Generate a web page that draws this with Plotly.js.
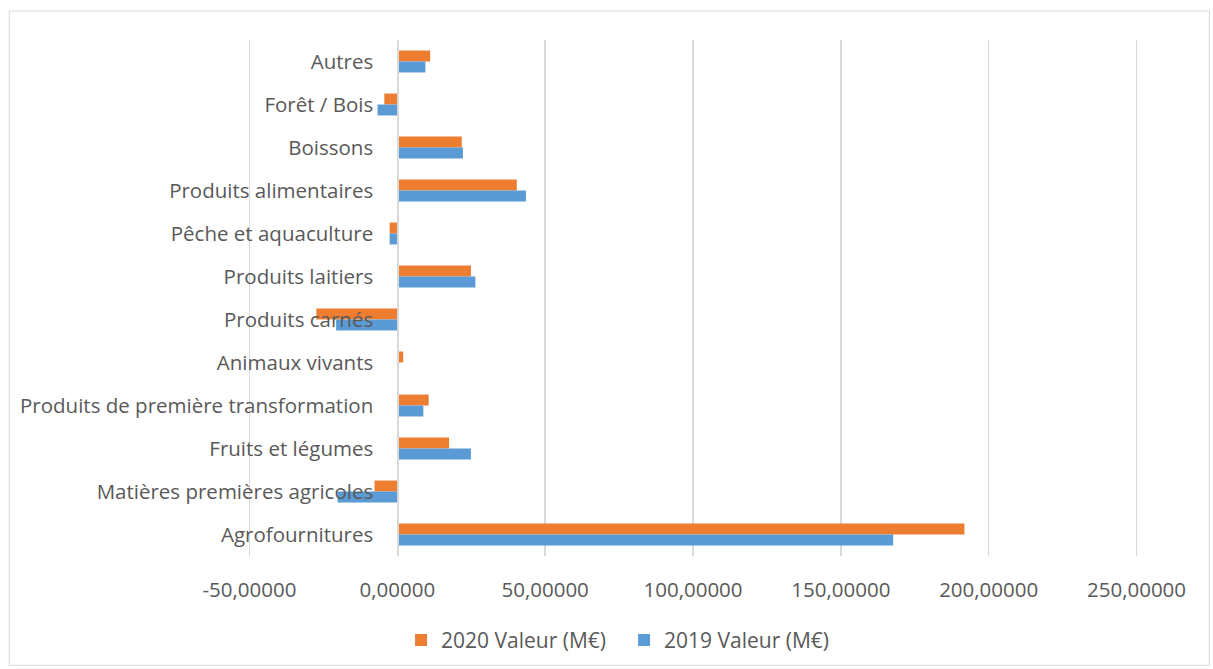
<!DOCTYPE html>
<html>
<head>
<meta charset="utf-8">
<script src="https://cdn.plot.ly/plotly-3.0.1.min.js"></script>
<style>
html,body{margin:0;padding:0;background:#fff;}
#chart{width:1213px;height:669px;}
</style>
</head>
<body>
<div id="chart"></div>
<script>
const categories = [
  "Autres",
  "Forêt / Bois",
  "Boissons",
  "Produits alimentaires",
  "Pêche et aquaculture",
  "Produits laitiers",
  "Produits carnés",
  "Animaux vivants",
  "Produits de première transformation",
  "Fruits et légumes",
  "Matières premières agricoles",
  "Agrofournitures"
];
const values2020 = [11.1, -4.4, 21.8, 40.4, -2.6, 24.9, -27.4, 2.0, 10.6, 17.5, -7.7, 191.8];
const values2019 = [9.5, -6.7, 22.2, 43.5, -2.6, 26.4, -20.7, -0.1, 8.8, 24.9, -20.2, 167.7];
const seriesNames = ["2020 Valeur (M€)", "2019 Valeur (M€)"];
const tickVals = [-50, 0, 50, 100, 150, 200, 250];
const tickText = ["-50,00000", "0,00000", "50,00000", "100,00000", "150,00000", "200,00000", "250,00000"];

const font = {family: "Open Sans, Noto Sans, sans-serif", size: 20.5, color: "#595959"};
const legendFont = {family: "Open Sans, Noto Sans, sans-serif", size: 21, color: "#595959"};

const traces = [
  {type: "bar", orientation: "h", name: seriesNames[0], y: categories, x: values2020,
   marker: {color: "#ED7D31"}, hoverinfo: "x+y"},
  {type: "bar", orientation: "h", name: seriesNames[1], y: categories, x: values2019,
   marker: {color: "#5B9BD5"}, hoverinfo: "x+y"}
];

const W = 1213, H = 669;
const ml = 247.5, mr = 74.5, mt = 39.5, mb = 112.5;
const pw = W - ml - mr, ph = H - mt - mb;
const px = v => (v - ml) / pw;
const py = v => (H - mb - v) / ph;

const layout = {
  width: W, height: H,
  margin: {l: ml, r: mr, t: mt, b: mb, autoexpand: false},
  paper_bgcolor: "#fff", plot_bgcolor: "#fff",
  barmode: "group", bargap: 0.49, bargroupgap: 0,
  font: font,
  showlegend: true,
  legend: {orientation: "h", x: px(624), xanchor: "center", y: py(641), yanchor: "middle",
           font: legendFont, traceorder: "normal", itemwidth: 30, entrywidth: 178},
  xaxis: {range: [-50.5, 250.5], tickvals: tickVals, ticktext: tickText, showgrid: true,
          gridcolor: "#D9D9D9", gridwidth: 1.5, zeroline: false, showline: false, ticks: "",
          ticklabelstandoff: 19, tickfont: font, fixedrange: true, automargin: false},
  yaxis: {type: "category", autorange: "reversed", anchor: "free", position: px(397),
          showline: true, linecolor: "#D9D9D9", linewidth: 1.5, showgrid: false, ticks: "",
          ticklabelstandoff: 20, tickfont: font, zeroline: false, fixedrange: true, automargin: false},
  shapes: [
    {type: "rect", xref: "paper", yref: "paper", x0: px(8.5), x1: px(1210), y0: py(666), y1: py(10.5),
     line: {color: "#D9D9D9", width: 1}, fillcolor: "rgba(0,0,0,0)", layer: "below"}
  ]
};

Plotly.newPlot("chart", traces, layout, {displayModeBar: false, staticPlot: true});
</script>
</body>
</html>
